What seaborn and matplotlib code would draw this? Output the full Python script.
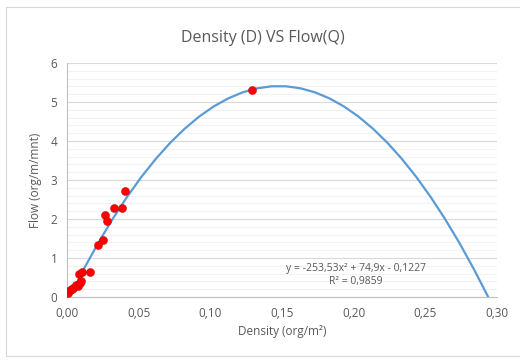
import numpy as np
import pandas as pd
import matplotlib
matplotlib.use("Agg")
import matplotlib.pyplot as plt
import seaborn as sns
from matplotlib.ticker import FuncFormatter, MultipleLocator
from matplotlib.patches import Rectangle

# Observed points (density org/m2, flow org/m/mnt)
density = [0.0009, 0.0021, 0.0035, 0.0044, 0.0060, 0.0075, 0.0085, 0.0091,
           0.0095, 0.0105, 0.0158, 0.0218, 0.0253, 0.0265, 0.0277, 0.0328,
           0.0381, 0.0405, 0.1289]
flow = [0.09, 0.17, 0.20, 0.23, 0.31, 0.29, 0.60, 0.36,
        0.42, 0.64, 0.65, 1.34, 1.45, 2.10, 1.96, 2.28,
        2.28, 2.71, 5.32]

# Excel polynomial trendline coefficients (as shown on the chart)
coef_a, coef_b, coef_c = -253.53, 74.9, -0.1227
r2 = 0.9859

df = pd.DataFrame({"Density": density, "Flow": flow})

# trendline over the data range up to where it crosses zero
root = (-coef_b - np.sqrt(coef_b**2 - 4 * coef_a * coef_c)) / (2 * coef_a)
xs = np.linspace(0.0016, root, 30)
trend = pd.DataFrame({"Density": xs, "Flow": coef_a * xs**2 + coef_b * xs + coef_c})

sns.set_style("white")
plt.rcParams["font.family"] = ["Open Sans", "DejaVu Sans"]

fig = plt.figure(figsize=(5.2, 3.6), dpi=100)
ax = fig.add_axes([0.129, 0.175, 0.827, 0.65])

grey_txt = "#595959"
ax.yaxis.set_major_locator(MultipleLocator(1))
ax.yaxis.set_minor_locator(MultipleLocator(0.2))
ax.xaxis.set_major_locator(MultipleLocator(0.05))
ax.grid(which="minor", axis="y", color="#f2f2f2", lw=0.8)
ax.grid(which="major", axis="y", color="#d9d9d9", lw=0.8)
ax.set_axisbelow(True)

sns.lineplot(data=trend, x="Density", y="Flow", ax=ax, color="#5b9bd5", lw=1.6, zorder=2)
sns.scatterplot(data=df, x="Density", y="Flow", ax=ax, color="#ff0000",
                s=34, edgecolor="#c00000", linewidth=0.3, zorder=3)

ax.set_xlim(0, 0.30)
ax.set_ylim(0, 6)
ax.xaxis.set_major_formatter(FuncFormatter(lambda v, p: f"{v:.2f}".replace(".", ",")))
ax.yaxis.set_major_formatter(FuncFormatter(lambda v, p: f"{v:.0f}"))

for s in ["top", "right"]:
    ax.spines[s].set_visible(False)
for s in ["left", "bottom"]:
    ax.spines[s].set_color("#bfbfbf")
    ax.spines[s].set_linewidth(0.8)
ax.tick_params(which="major", length=4, color="#bfbfbf", labelcolor=grey_txt,
               labelsize=8.5, direction="out", width=0.8, pad=3)
ax.tick_params(which="minor", length=0)

ax.set_xlabel("Density (org/m²)", color=grey_txt, fontsize=8.5, labelpad=4)
ax.set_ylabel("Flow (org/m/mnt)", color=grey_txt, fontsize=8.5, labelpad=6)
fig.suptitle("Density (D) VS Flow(Q)", x=0.505, y=0.918, fontsize=11.5, color=grey_txt)

eq = (f"y = {coef_a:.2f}x² + {coef_b:.1f}x - {abs(coef_c):.4f}".replace(".", ",")
      + "\n" + f"R² = {r2:.4f}".replace(".", ","))
ax.text(0.2015, 0.56, eq, ha="center", va="center", fontsize=7.5, color=grey_txt,
        linespacing=1.3)

fig.patches.append(Rectangle((6 / 520, 0.01), 1.0, 0.97, transform=fig.transFigure,
                             fill=False, edgecolor="#d9d9d9", lw=0.8))

fig.savefig("out.png", dpi=100)
